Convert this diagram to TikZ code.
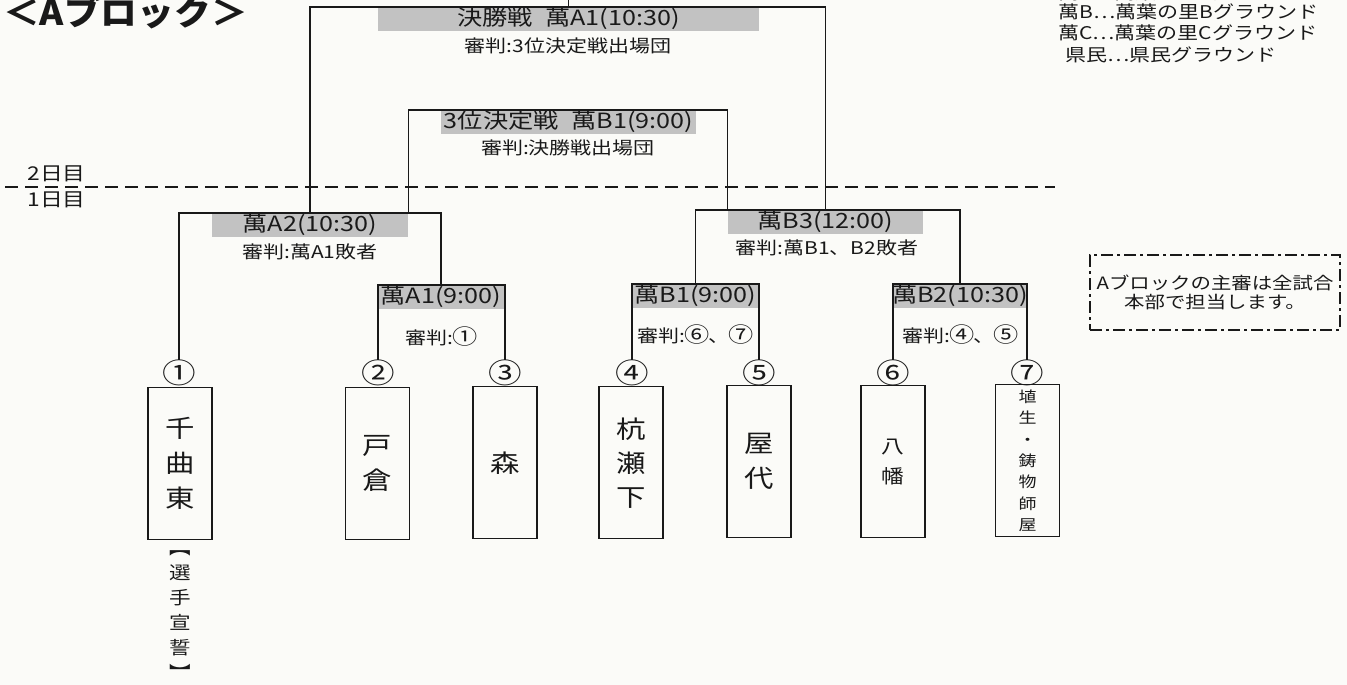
\documentclass[tikz,border=0pt]{standalone}
\usepackage{fontspec}
\setmainfont{Noto Sans CJK JP}[FakeStretch=1.2]
\newfontfamily\titlefont{Noto Sans CJK JP}[FakeStretch=1.08]
\newcommand{\circnum}[1]{{\fontsize{21}{18}\selectfont\kern-0.04em#1\kern-0.04em}}
\definecolor{barfill}{gray}{0.76}
\definecolor{paper}{RGB}{251,251,248}
\definecolor{ink}{gray}{0.1}
\tikzset{
  bracket/.style={line width=1.3pt, draw=ink},
  matchbar/.style={fill=barfill, inner sep=0pt, minimum height=24pt, anchor=north, text=ink, font=\fontsize{21}{21}\selectfont},
  referee/.style={inner sep=0pt, text=ink, font=\fontsize{17.5}{18}\selectfont},
  seed/.style={inner sep=0pt, text=ink, font=\fontsize{28}{28}\selectfont},
  team/.style={draw=ink, line width=1.4pt, minimum width=64pt, minimum height=152pt, anchor=north, inner sep=0pt, align=center, text=ink},
  legend/.style={inner sep=0pt, anchor=west, text=ink, font=\fontsize{17.5}{17.5}\selectfont},
  daylabel/.style={anchor=east, inner sep=0pt, text=ink, font=\fontsize{19}{19}\selectfont},
}
\begin{document}
\begin{tikzpicture}[x=1pt, y=-1pt]
    % Paper
    \fill[paper] (0,0) rectangle (1347,685);
    \useasboundingbox (0,0) rectangle (1347,685);
    % Title and legend
    \node[anchor=base west, inner sep=0pt, text=ink, font=\titlefont\fontsize{34}{34}\selectfont\bfseries] (title) at (3,26) {＜Aブロック＞};
    \node[legend] (leg1) at (1058,-7) {萬A…萬葉の里Aグラウンド};
    \node[legend] (leg2) at (1058,12) {萬B…萬葉の里Bグラウンド};
    \node[legend] (leg3) at (1058,33) {萬C…萬葉の里Cグラウンド};
    \node[legend] (leg4) at (1065,55) {県民…県民グラウンド};
    % Day divider
    \coordinate (divL) at (5,187);
    \coordinate (divR) at (1055,187);
    \draw[ink, line width=2.2pt, dash pattern=on 13pt off 7pt] (divL) -- (divR);
    \node[daylabel] (day2) at (86,174) {2日目};
    \node[daylabel] (day1) at (86,200) {1日目};
    % Match bars
    \node[matchbar, minimum width=381pt] (fin) at (568.5,7) {決勝戦\hspace{0.6em}萬A1(10:30)};
    \node[matchbar, minimum width=255pt] (third) at (568.5,110) {3位決定戦\hspace{0.6em}萬B1(9:00)};
    \node[matchbar, minimum width=196pt] (a2) at (310,213) {萬A2(10:30)};
    \node[matchbar, minimum width=126pt] (a1) at (441,285) {萬A1(9:00)};
    \node[matchbar, minimum width=195pt] (b3) at (825.5,210) {萬B3(12:00)};
    \node[matchbar, minimum width=127pt] (b1) at (695.5,284) {萬B1(9:00)};
    \node[matchbar, minimum width=134pt] (b2) at (960,284) {萬B2(10:30)};
    % Referees
    \node[referee] (finref) at (568,46) {審判:3位決定戦出場団};
    \node[referee] (thirdref) at (568,148) {審判:決勝戦出場団};
    \node[referee] (a2ref) at (310,252) {審判:萬A1敗者};
    \node[referee] (a1ref) at (441,337) {審判:\circnum{①}};
    \node[referee] (b3ref) at (827,248) {審判:萬B1、B2敗者};
    \node[referee] (b1ref) at (695,335) {審判:\circnum{⑥}、\circnum{⑦}};
    \node[referee] (b2ref) at (960,335) {審判:\circnum{④}、\circnum{⑤}};
    % Seeds
    \node[seed] (s1) at (179,373) {①};
    \node[seed] (s2) at (378,373) {②};
    \node[seed] (s3) at (505,373) {③};
    \node[seed] (s4) at (632,373) {④};
    \node[seed] (s5) at (759,373) {⑤};
    \node[seed] (s6) at (893,373) {⑥};
    \node[seed] (s7) at (1027,373) {⑦};
    % Teams
    \node[team, font=\fontsize{24.5}{35}\selectfont] (t1) at (180,387) {千\\曲\\東};
    \node[team, font=\fontsize{24.5}{35}\selectfont] (t2) at (377.5,387) {戸\\倉};
    \node[team, font=\fontsize{24.5}{35}\selectfont] (t3) at (505,386) {森};
    \node[team, font=\fontsize{24.5}{34}\selectfont] (t4) at (631,386) {杭\\瀬\\下};
    \node[team, font=\fontsize{24.5}{35}\selectfont] (t5) at (759,385) {屋\\代};
    \node[team, font=\fontsize{19}{30}\selectfont] (t6) at (893,385) {八\\幡};
    \node[team, font=\fontsize{15}{21.3}\selectfont] (t7) at (1027.5,384) {埴\\生\\・\\鋳\\物\\師\\屋};
    \node[inner sep=0pt, align=center, text=ink, font=\fontsize{18}{25}\selectfont] (oath) at (180,615) {︻\\選\\手\\宣\\誓\\︼};
    % Brackets
    \coordinate (champ) at (568.5,-2);
    \draw[bracket] (fin.north) -- (champ);
    \draw[bracket] (a2.north) |- (fin.north) -| (b3.north);
    \draw[bracket] (a2.north east) |- (third.north) -| (b3.north west);
    \draw[bracket] (s1.north) |- (a2.north) -| (a1.north);
    \draw[bracket] (s2.north) |- (a1.north) -| (s3.north);
    \draw[bracket] (b1.north) |- (b3.north) -| (b2.north);
    \draw[bracket] (s4.north) |- (b1.north) -| (s5.north);
    \draw[bracket] (s6.north) |- (b2.north) -| (s7.north);
    % Note
    \node[draw=ink, line width=2pt, dash pattern=on 12pt off 4pt on 3pt off 4pt, minimum width=250pt, minimum height=75pt, align=center, inner sep=0pt, text=ink, font=\fontsize{17}{19}\selectfont] (note) at (1215,292.5) {Aブロックの主審は全試合\\本部で担当します。};
\end{tikzpicture}
\end{document}
